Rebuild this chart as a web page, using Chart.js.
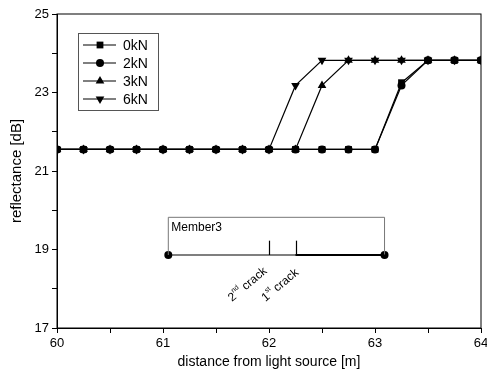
<!DOCTYPE html>
<html>
<head>
<meta charset="utf-8">
<script src="https://cdn.jsdelivr.net/npm/chart.js@4.4.1/dist/chart.umd.min.js"></script>
<style>
  html, body { margin: 0; padding: 0; background: #fff; }
  #wrap { width: 487px; height: 375px; }
</style>
</head>
<body>
<div id="wrap"><canvas id="chart" width="487" height="375"></canvas></div>
<script>
// distance along the fibre [m]
const distances = [60, 60.25, 60.5, 60.75, 61, 61.25, 61.5, 61.75, 62, 62.25, 62.5, 62.75, 63, 63.25, 63.5, 63.75, 64];

// reflectance [dB] per load
const load0kN = [21.55, 21.55, 21.55, 21.55, 21.55, 21.55, 21.55, 21.55, 21.55, 21.55, 21.55, 21.55, 21.55, 23.25, 23.82, 23.82, 23.82];
const load2kN = [21.55, 21.55, 21.55, 21.55, 21.55, 21.55, 21.55, 21.55, 21.55, 21.55, 21.55, 21.55, 21.55, 23.18, 23.82, 23.82, 23.82];
const load3kN = [21.55, 21.55, 21.55, 21.55, 21.55, 21.55, 21.55, 21.55, 21.55, 21.55, 23.18, 23.82, 23.82, 23.82, 23.82, 23.82, 23.82];
const load6kN = [21.55, 21.55, 21.55, 21.55, 21.55, 21.55, 21.55, 21.55, 21.55, 23.18, 23.82, 23.82, 23.82, 23.82, 23.82, 23.82, 23.82];

const seriesLabels = ['0kN', '2kN', '3kN', '6kN'];
const seriesMarkers = ['rect', 'circle', 'triangle', 'triangle'];
const markerRotation = [0, 0, 0, 180];
const markerSize = [4.8, 4, 5, 5];

// member sketch inside the plot
const memberEnds = [61.05, 63.09];
const memberBase = 18.86;
const memberTop = 19.82;
const crackAt = [62.0, 62.25];
const crackLabels = [['2', 'nd', ' crack'], ['1', 'st', ' crack']];
const memberName = 'Member3';

const xTickLabels = [60, 61, 62, 63, 64];
const yTickLabels = [17, 19, 21, 23, 25];

const FONT = '"Liberation Sans", Arial, sans-serif';

const toPoints = vals => vals.map((v, i) => ({ x: distances[i], y: v }));
const allSeries = [load0kN, load2kN, load3kN, load6kN];

const datasets = allSeries.map((vals, i) => ({
  label: seriesLabels[i],
  data: toPoints(vals),
  borderColor: '#000',
  backgroundColor: '#000',
  borderWidth: 1.2,
  pointStyle: seriesMarkers[i],
  pointRotation: markerRotation[i],
  pointRadius: markerSize[i],
  pointBorderWidth: 0,
  tension: 0,
  clip: 0
}));

// bottom line of the member with its end points
datasets.push({
  label: 'member',
  data: memberEnds.map(x => ({ x: x, y: memberBase })),
  borderColor: '#000',
  backgroundColor: '#000',
  borderWidth: 1.2,
  pointStyle: 'circle',
  pointRadius: 4,
  pointBorderWidth: 0
});

const framePlugin = {
  id: 'frame',
  afterDatasetsDraw(chart) {
    const { ctx, chartArea: a, scales } = chart;
    const x = scales.x, y = scales.y;
    ctx.save();
    ctx.strokeStyle = '#000';
    ctx.lineWidth = 1;
    ctx.strokeRect(a.left, a.top, a.right - a.left, a.bottom - a.top);

    // member box
    const xl = x.getPixelForValue(memberEnds[0]);
    const xr = x.getPixelForValue(memberEnds[1]);
    const yb = y.getPixelForValue(memberBase);
    const yt = y.getPixelForValue(memberTop);
    ctx.strokeStyle = '#777';
    ctx.lineWidth = 1;
    ctx.beginPath();
    ctx.moveTo(xl, yb);
    ctx.lineTo(xl, yt);
    ctx.lineTo(xr, yt);
    ctx.lineTo(xr, yb);
    ctx.stroke();
    ctx.strokeStyle = '#000';
    ctx.lineWidth = 2;
    ctx.beginPath();
    ctx.moveTo(x.getPixelForValue(crackAt[1]), yb);
    ctx.lineTo(xr, yb);
    ctx.stroke();
    ctx.lineWidth = 1.2;
    crackAt.forEach(c => {
      const cx = Math.round(x.getPixelForValue(c)) + 0.5;
      ctx.beginPath();
      ctx.moveTo(cx, yb);
      ctx.lineTo(cx, yb - (yb - yt) * 0.38);
      ctx.stroke();
    });

    ctx.fillStyle = '#000';
    ctx.font = '12px ' + FONT;
    ctx.textBaseline = 'alphabetic';
    ctx.fillText(memberName, xl + 3, yt + 14);

    // crack labels, rotated
    crackAt.forEach((c, i) => {
      const cx = x.getPixelForValue(c);
      ctx.save();
      ctx.translate(cx - (i === 0 ? 37 : 30), yb + 47);
      ctx.rotate(-40 * Math.PI / 180);
      const parts = crackLabels[i];
      ctx.font = '12px ' + FONT;
      ctx.fillText(parts[0], 0, 0);
      let w = ctx.measureText(parts[0]).width;
      ctx.font = '7px ' + FONT;
      ctx.fillText(parts[1], w, -6);
      w += ctx.measureText(parts[1]).width;
      ctx.font = '12px ' + FONT;
      ctx.fillText(parts[2], w, 0);
      ctx.restore();
    });

    // legend
    const lx = a.left + 21, ly = a.top + 19;
    const lw = 80, lh = 77;
    ctx.strokeStyle = '#555';
    ctx.lineWidth = 1;
    ctx.strokeRect(lx + 0.5, ly + 0.5, lw, lh);
    ctx.font = '14px ' + FONT;
    ctx.textBaseline = 'middle';
    seriesLabels.forEach((lab, i) => {
      const ey = ly + 12 + i * 18;
      ctx.strokeStyle = '#000';
      ctx.lineWidth = 1.2;
      ctx.beginPath();
      ctx.moveTo(lx + 5, ey);
      ctx.lineTo(lx + 38, ey);
      ctx.stroke();
      Chart.helpers.drawPoint(ctx, {
        pointStyle: seriesMarkers[i],
        rotation: markerRotation[i],
        radius: markerSize[i],
        borderWidth: 0
      }, lx + 22, ey);
      ctx.fillStyle = '#000';
      ctx.fillText(lab, lx + 45, ey + 1);
    });
    ctx.restore();
  }
};

new Chart(document.getElementById('chart'), {
  type: 'line',
  data: { datasets: datasets },
  plugins: [framePlugin],
  options: {
    responsive: false,
    animation: false,
    layout: { padding: { top: 14, right: 6, left: 0, bottom: 0 } },
    plugins: { legend: { display: false }, tooltip: { enabled: false } },
    scales: {
      x: {
        type: 'linear',
        min: 60,
        max: 64,
        afterFit: s => { s.height = 47; s.paddingLeft = 0; s.paddingRight = 0; },
        ticks: {
          stepSize: 0.5,
          maxRotation: 0,
          autoSkip: false,
          color: '#000',
          padding: 3,
          font: { family: FONT, size: 13 },
          callback: v => xTickLabels.includes(v) ? String(v) : ''
        },
        grid: { drawOnChartArea: false, tickLength: 5, color: '#000' },
        border: { color: '#000' },
        title: {
          display: true,
          text: 'distance from light source [m]',
          color: '#000',
          font: { family: FONT, size: 14 },
          padding: { top: 0, bottom: 4 }
        }
      },
      y: {
        min: 17,
        max: 25,
        afterFit: s => { s.width = 57; },
        ticks: {
          stepSize: 1,
          autoSkip: false,
          color: '#000',
          padding: 3,
          font: { family: FONT, size: 13 },
          callback: v => yTickLabels.includes(v) ? String(v) : ''
        },
        grid: { drawOnChartArea: false, tickLength: 5, color: '#000' },
        border: { color: '#000' },
        title: {
          display: true,
          text: 'reflectance [dB]',
          color: '#000',
          font: { family: FONT, size: 15 },
          padding: { top: 8, bottom: 0 }
        }
      }
    }
  }
});
</script>
</body>
</html>
